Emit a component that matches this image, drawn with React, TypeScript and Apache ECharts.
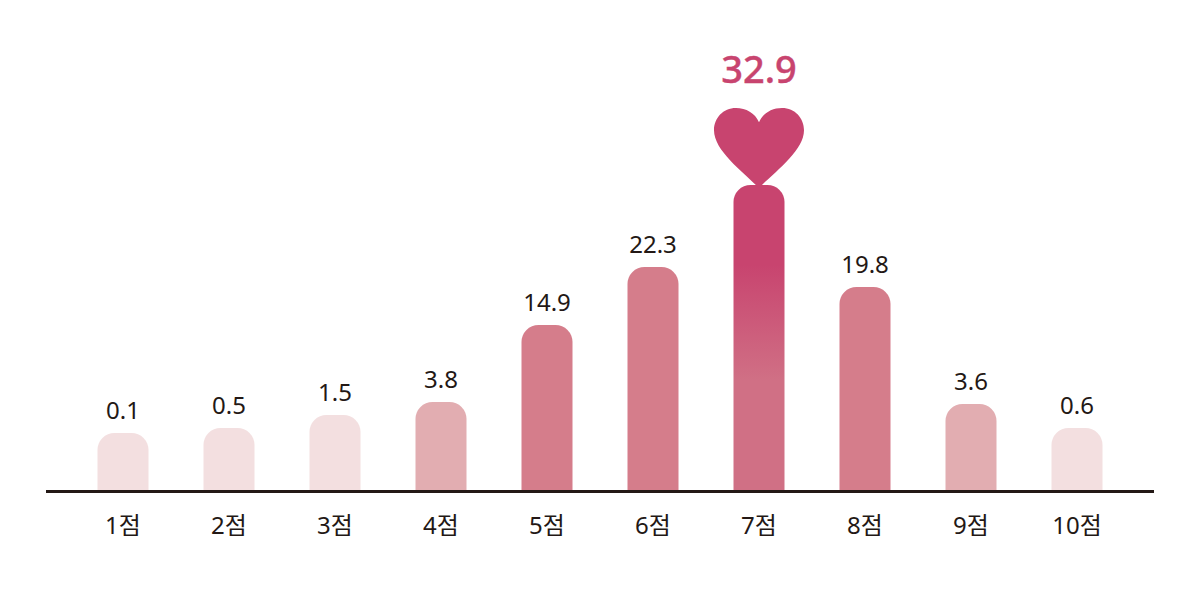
import React, { useEffect, useRef } from "react";
import * as echarts from "echarts";

const categories = ["1점", "2점", "3점", "4점", "5점", "6점", "7점", "8점", "9점", "10점"];
const scores = [0.1, 0.5, 1.5, 3.8, 14.9, 22.3, 32.9, 19.8, 3.6, 0.6];
// Drawn bar heights (the source's bars are not proportional to the scores)
const barHeights = [58, 63, 76, 89, 166, 224, 306, 204, 87, 63];
const heartLevel = [343];

const LIGHT = "#f3dfe0";
const MID = "#e2adb1";
const DARK = "#d57d8b";
const PEAK = "#c8446f";
const INK = "#231815";
const FONT = "'Noto Sans', 'Noto Sans CJK KR', sans-serif";

const HEART =
  "path://M45 14C41 5 32 0 22 0C9 0 0 10 0 22C0 42 28 62 45 79C62 62 90 42 90 22C90 10 81 0 68 0C58 0 49 5 45 14Z";

function barColor(i: number) {
  const s = scores[i];
  if (s >= 30) {
    return new echarts.graphic.LinearGradient(0, 0, 0, 1, [
      { offset: 0, color: PEAK },
      { offset: 0.26, color: PEAK },
      { offset: 0.64, color: "#d07085" },
      { offset: 1, color: "#d07085" },
    ]);
  }
  if (s >= 10) return DARK;
  if (s >= 2) return MID;
  return LIGHT;
}

export default function App() {
  const ref = useRef<HTMLDivElement>(null);
  useEffect(() => {
    const chart = echarts.init(ref.current!, null, { renderer: "svg" });
    const peakIndex = scores.indexOf(Math.max(...scores));
    chart.setOption({
      animation: false,
      backgroundColor: "#ffffff",
      grid: { left: 70, right: 70, top: 0, bottom: 109 },
      graphic: [
        {
          type: "line",
          shape: { x1: 46, y1: 491.5, x2: 1154, y2: 491.5 },
          style: { stroke: INK, lineWidth: 3 },
          z: 10,
        },
      ],
      xAxis: {
        type: "category",
        data: categories,
        axisLine: { show: false },
        axisTick: { show: false },
        axisLabel: {
          color: INK,
          fontSize: 24,
          fontFamily: FONT,
          margin: 17,
          lineHeight: 32,
        },
      },
      yAxis: { type: "value", min: 0, max: 491, show: false },
      series: [
        {
          type: "bar",
          barWidth: 51,
          data: barHeights.map((h, i) => ({
            value: h,
            itemStyle: { color: barColor(i), borderRadius: [17, 17, 0, 0] },
            label:
              i === peakIndex
                ? { show: false }
                : {
                    show: true,
                    position: "top",
                    distance: 12,
                    formatter: scores[i].toFixed(1),
                    color: INK,
                    fontSize: 24,
                    fontFamily: FONT,
                  },
          })),
        },
        {
          type: "scatter",
          symbol: HEART,
          symbolSize: [90, 80],
          itemStyle: { color: PEAK, opacity: 1 },
          data: categories.map((_, i) => (i === peakIndex ? heartLevel[0] : null)),
          label: {
            show: true,
            position: "top",
            distance: 21,
            formatter: scores[peakIndex].toFixed(1),
            color: PEAK,
            fontSize: 38,
            fontWeight: 500,
            fontFamily: FONT,
            textBorderColor: PEAK,
            textBorderWidth: 0.4,
          },
        },
      ],
    });
    return () => chart.dispose();
  }, []);
  return (
    <div
      ref={ref}
      style={{ position: "absolute", left: 0, top: 0, width: 1200, height: 600 }}
    />
  );
}
